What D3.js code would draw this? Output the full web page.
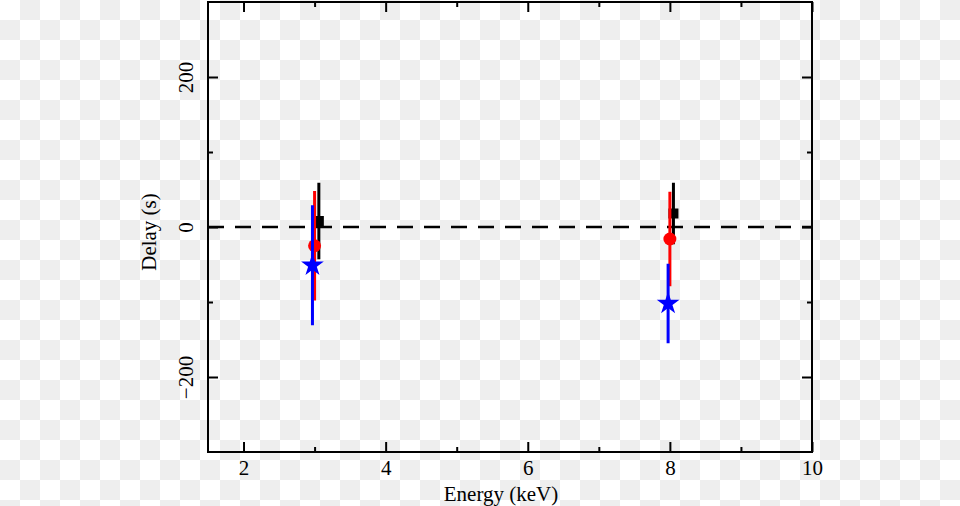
<!DOCTYPE html>
<html><head><meta charset="utf-8">
<script src="https://cdn.jsdelivr.net/npm/d3@7/dist/d3.min.js"></script>
<style>
html,body{margin:0;padding:0;background:#fff;}
svg{display:block;}
text{font-family:"Liberation Serif","Times New Roman",serif;fill:#000;}
</style></head>
<body>
<svg id="chart" width="960" height="506"></svg>
<script>
// Data
const blackX = [3.06, 8.05];
const blackY = [8, 18];
const blackErr = [51, 41];

const redX = [3.0, 8.0];
const redY = [-25, -16];
const redErr = [73, 63];

const blueX = [2.97, 7.975];
const blueY = [-51, -102];
const blueErr = [80, 53];

const xMajorTicks = [2, 4, 6, 8, 10];
const xMinorTicks = [3, 5, 7, 9];
const yMajorTicks = [-200, 0, 200];
const yMinorTicks = [-100, 100];

const W = 960, H = 506;
const svg = d3.select("#chart");

// checker background
const defs = svg.append("defs");
const pat = defs.append("pattern").attr("id","chk").attr("width",40).attr("height",40).attr("patternUnits","userSpaceOnUse");
pat.append("rect").attr("width",40).attr("height",40).attr("fill","#ffffff");
pat.append("rect").attr("x",20).attr("y",0).attr("width",20).attr("height",20).attr("fill","#eeeeee");
pat.append("rect").attr("x",0).attr("y",20).attr("width",20).attr("height",20).attr("fill","#eeeeee");
svg.append("rect").attr("width",W).attr("height",H).attr("fill","url(#chk)");

const L = 208, R = 812, T = 2, B = 452;
const x = d3.scaleLinear().domain([1.5, 10]).range([L, R]);
const y = d3.scaleLinear().domain([-300, 300]).range([B, T]);

const g = svg.append("g");
const SERIF = "Liberation Serif, Times New Roman, serif";

// ticks (inward, all four sides)
function addAxis(axisGen, tx, ty, vals, size, labels) {
  const a = g.append("g").attr("transform", `translate(${tx},${ty})`)
    .call(axisGen.tickValues(vals).tickSizeInner(size).tickSizeOuter(0).tickPadding(8)
      .tickFormat(labels ? (d => d < 0 ? "\u2212" + Math.abs(d) : String(d)) : () => ""));
  a.attr("font-family", SERIF).attr("font-size", 21);
  a.select(".domain").remove();
  a.selectAll(".tick line").attr("stroke","#000").attr("stroke-width",2);
  a.selectAll("text").attr("font-family", SERIF).attr("font-size", 21);
  return a;
}
const xb = addAxis(d3.axisBottom(x), 0, B, xMajorTicks, -10, true);
xb.selectAll("text").attr("y", 8).attr("dy", "0.71em");
addAxis(d3.axisBottom(x), 0, B, xMinorTicks, -5, false);
addAxis(d3.axisTop(x), 0, T, xMajorTicks, -10, false);
addAxis(d3.axisTop(x), 0, T, xMinorTicks, -5, false);

const yl = addAxis(d3.axisLeft(y), L, 0, yMajorTicks, -10, true);
yl.selectAll("text").attr("x", null).attr("dy", null)
  .attr("text-anchor","middle")
  .attr("transform","translate(-15,0) rotate(-90)");
addAxis(d3.axisLeft(y), L, 0, yMinorTicks, -5, false);
addAxis(d3.axisRight(y), R, 0, yMajorTicks, -10, false);
addAxis(d3.axisRight(y), R, 0, yMinorTicks, -5, false);

// frame
g.append("rect").attr("x", L).attr("y", T).attr("width", R - L).attr("height", B - T)
  .attr("fill","none").attr("stroke","#000").attr("stroke-width",2);

// zero dashed line
g.append("line").attr("x1", x(1.5)).attr("x2", x(10)).attr("y1", y(0)).attr("y2", y(0))
  .attr("stroke","#000").attr("stroke-width",2.5).attr("stroke-dasharray","16,11");

// series
function drawSeries(xs, ys, errs, color, marker) {
  const s = g.append("g");
  const idx = d3.range(xs.length);
  s.selectAll("line.err").data(idx).enter().append("line")
    .attr("x1", i => x(xs[i])).attr("x2", i => x(xs[i]))
    .attr("y1", i => y(ys[i] + errs[i])).attr("y2", i => y(ys[i] - errs[i]))
    .attr("stroke", color).attr("stroke-width", 3);
  if (marker === "square") {
    s.selectAll("rect.m").data(idx).enter().append("rect")
      .attr("x", i => x(xs[i]) - 5).attr("y", i => y(ys[i]) - 5)
      .attr("width", 10).attr("height", 10).attr("fill", color);
  } else if (marker === "circle") {
    s.selectAll("circle.m").data(idx).enter().append("circle")
      .attr("cx", i => x(xs[i])).attr("cy", i => y(ys[i])).attr("r", 6.5).attr("fill", color);
  } else {
    s.selectAll("path.m").data(idx).enter().append("path")
      .attr("d", d3.symbol().type(d3.symbolStar).size(160))
      .attr("transform", i => `translate(${x(xs[i])},${y(ys[i])})`)
      .attr("fill", color);
  }
}
drawSeries(blackX, blackY, blackErr, "#000000", "square");
drawSeries(redX, redY, redErr, "#ff0000", "circle");
drawSeries(blueX, blueY, blueErr, "#0000ff", "star");

// axis titles
svg.append("text").attr("x", 501).attr("y", 501).attr("text-anchor","middle")
  .attr("font-family", SERIF).attr("font-size", 21).text("Energy (keV)");
svg.append("text").attr("transform","translate(156,232) rotate(-90)").attr("text-anchor","middle")
  .attr("font-family", SERIF).attr("font-size", 21).text("Delay (s)");
</script>
</body></html>
